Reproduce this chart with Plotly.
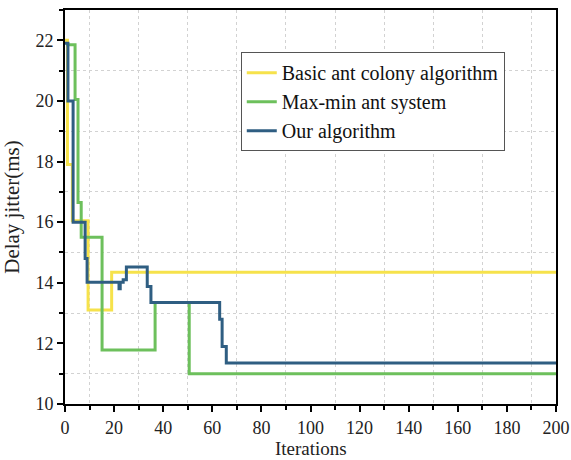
import plotly.graph_objects as go

# Basic ant colony algorithm
basic_x = [0, 1, 3, 9.4, 19, 200]
basic_y = [22.0, 17.9, 16.05, 13.1, 14.35, 14.35]

# Max-min ant system
maxmin_x = [0.5, 4.1, 5.3, 6.6, 15.1, 36.7, 50.6, 200]
maxmin_y = [21.85, 20.05, 16.65, 15.5, 11.78, 13.35, 11.0, 11.0]

# Our algorithm
ours_x = [0, 1.2, 3.3, 8.2, 9.0, 22.0, 22.5, 23.7, 25.0, 33.5, 35.0, 63.0, 64.0, 65.7, 200]
ours_y = [21.9, 20.0, 16.0, 14.8, 14.02, 13.8, 14.02, 14.1, 14.52, 13.88, 13.35, 12.8, 11.9, 11.35, 11.35]

series = [
    ("Basic ant colony algorithm", basic_x, basic_y, "#F6E24B"),
    ("Max-min ant system", maxmin_x, maxmin_y, "#6DC05C"),
    ("Our algorithm", ours_x, ours_y, "#2F5E82"),
]

x_title = "Iterations"
y_title = "Delay jitter(ms)"
x_range = [0, 200]
y_range = [10, 23]

fig = go.Figure()
# invisible trace to activate the grid overlay axes (drawn first, below data)
fig.add_trace(go.Scatter(x=x_range, y=y_range, xaxis="x2", yaxis="y2", mode="lines",
                         line=dict(width=0), hoverinfo="skip", showlegend=False))
for name, xs, ys, col in series:
    fig.add_trace(go.Scatter(x=xs, y=ys, mode="lines", name=name,
                             line=dict(color=col, width=3, shape="hv")))

font = "Liberation Serif, Times New Roman, serif"
axis_common = dict(
    showline=True, linecolor="black", linewidth=2, mirror=True,
    ticks="outside", ticklen=6, tickwidth=1.5, tickcolor="black",
    showgrid=False, zeroline=False, automargin=False,
    tickfont=dict(family=font, size=18, color="#222"),
)

fig.update_layout(
    xaxis=dict(range=x_range, dtick=20, tick0=0,
               minor=dict(dtick=10, tick0=0, ticks="outside", ticklen=4, tickcolor="black", showgrid=False),
               **axis_common),
    yaxis=dict(range=y_range, dtick=2, tick0=10,
               title=dict(text=y_title, font=dict(family=font, size=21, color="#222")),
               minor=dict(dtick=1, tick0=10, ticks="outside", ticklen=4, tickcolor="black", showgrid=False),
               **axis_common),
    # overlay axes used only to draw the dotted grid at the minor positions
    xaxis2=dict(range=x_range, overlaying="x", tick0=10, dtick=20, showgrid=True,
                gridcolor="#d2d2d2", griddash="dot", gridwidth=1, showticklabels=False,
                ticks="", showline=False, zeroline=False, layer="below traces"),
    yaxis2=dict(range=y_range, overlaying="y", tick0=11, dtick=2, showgrid=True,
                gridcolor="#d2d2d2", griddash="dot", gridwidth=1, showticklabels=False,
                ticks="", showline=False, zeroline=False, layer="below traces"),
    width=571, height=460,
    margin=dict(l=65, r=15, t=10, b=56),
    plot_bgcolor="white", paper_bgcolor="white",
    font=dict(family=font, size=19, color="#222"),
    legend=dict(x=0.358, y=0.893, xanchor="left", yanchor="top",
                bgcolor="white", bordercolor="#555", borderwidth=1,
                font=dict(family=font, size=20, color="#111"),
                tracegroupgap=0),
    showlegend=True,
    annotations=[dict(text=x_title, xref="paper", yref="paper", x=0.5, y=-0.114,
                      xanchor="center", yanchor="middle", showarrow=False,
                      font=dict(family=font, size=19, color="#222"))],
)

fig.write_html("out.html")
